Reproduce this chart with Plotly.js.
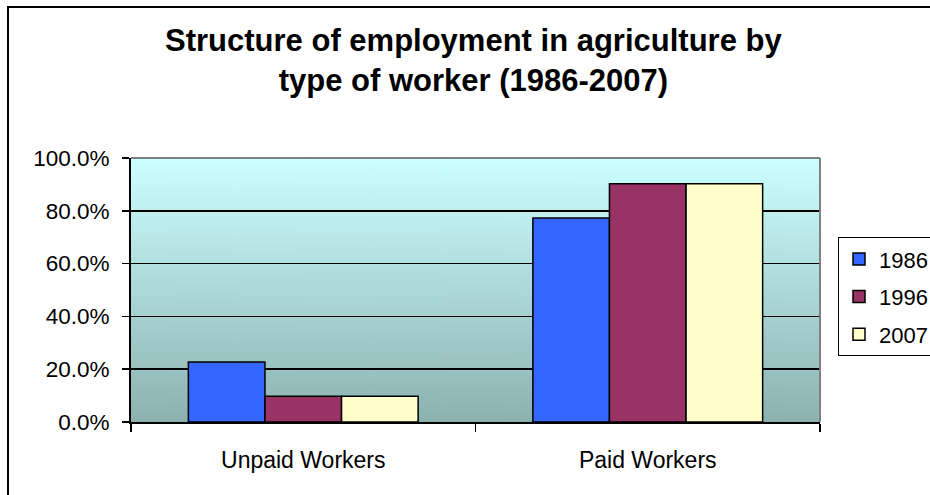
<!DOCTYPE html>
<html>
<head>
<meta charset="utf-8">
<script src="https://cdn.plot.ly/plotly-3.0.1.min.js"></script>
<style>
html,body{margin:0;padding:0;overflow:hidden;background:#fff;}
#chart{position:absolute;left:0;top:0;width:930px;height:495px;}
#frame{position:absolute;left:7px;top:6px;width:1000px;height:1000px;border:2px solid #000;pointer-events:none;}
</style>
</head>
<body>
<div id="frame"></div>
<div id="chart"></div>
<script>
const categories = ["Unpaid Workers", "Paid Workers"];
const years = ["1986", "1996", "2007"];
const values1986 = [22.7, 77.3];
const values1996 = [9.8, 90.2];
const values2007 = [9.8, 90.2];
const seriesColors = ["#3366FF", "#993366", "#FFFFCC"];
const yTicks = [0, 20, 40, 60, 80, 100];

// gradient background image for the plot area
const cv = document.createElement("canvas");
cv.width = 10; cv.height = 264;
const ctx = cv.getContext("2d");
const g = ctx.createLinearGradient(0, 0, 0, 264);
g.addColorStop(0, "#CCFFFF");
g.addColorStop(1, "#8CB2B0");
ctx.fillStyle = g;
ctx.fillRect(0, 0, 10, 264);
const bgURL = cv.toDataURL();

const seriesValues = [values1986, values1996, values2007];
const traces = years.map((yr, i) => ({
  type: "bar",
  name: yr,
  x: categories,
  y: seriesValues[i],
  legendgroup: "g" + i,
  marker: {color: seriesColors[i], line: {color: "#000", width: 1.5}},
  hoverinfo: "none"
}));

const layout = {
  width: 930, height: 495,
  margin: {l: 131, r: 110, t: 158, b: 73, autoexpand: false},
  paper_bgcolor: "rgba(0,0,0,0)",
  plot_bgcolor: "rgba(0,0,0,0)",
  font: {family: "Liberation Sans, Arial, sans-serif", color: "#000", size: 22},
  title: {
    text: "Structure of employment in agriculture by<br>type of worker (1986-2007)",
    font: {family: "Liberation Sans, Arial, sans-serif", size: 31, weight: "bold", color: "#000"},
    x: 0.509, xanchor: "center",
    y: 1 - 51/495, yanchor: "top", yref: "container"
  },
  barmode: "group",
  bargap: 0.333,
  bargroupgap: 0,
  xaxis: {
    type: "category",
    tickson: "boundaries",
    ticks: "outside", ticklen: 8, tickwidth: 1.5, tickcolor: "#000",
    showline: true, linecolor: "#000", linewidth: 2,
    showgrid: false, zeroline: false,
    ticklabelstandoff: 16,
    tickfont: {size: 23, color: "#000"}
  },
  yaxis: {
    range: [0, 100],
    tickvals: yTicks,
    ticktext: yTicks.map(v => v.toFixed(1) + "%"),
    ticks: "outside", ticklen: 7, tickwidth: 1.5, tickcolor: "#000",
    showline: true, linecolor: "#000", linewidth: 2,
    showgrid: true, gridcolor: "#000", gridwidth: 1.5,
    zeroline: false,
    ticklabelstandoff: 8,
    tickfont: {size: 22.5, color: "#000"}
  },
  legend: {
    x: (838 - 131) / 689, xanchor: "left", xref: "paper",
    y: 0.70, yanchor: "top", yref: "paper",
    bgcolor: "#fff", bordercolor: "#000", borderwidth: 1,
    font: {size: 22, color: "#000"},
    traceorder: "grouped", tracegroupgap: 6,
    entrywidth: 120,
    itemclick: false, itemdoubleclick: false
  },
  images: [{
    source: bgURL, xref: "paper", yref: "paper",
    x: 0, y: 1, sizex: 1, sizey: 1, sizing: "stretch",
    xanchor: "left", yanchor: "top", layer: "below"
  }],
  shapes: [
    {type: "line", xref: "paper", yref: "paper", x0: 0, x1: 1, y0: 1, y1: 1, line: {color: "#808080", width: 2}},
    {type: "line", xref: "paper", yref: "paper", x0: 1, x1: 1, y0: 0, y1: 1, line: {color: "#808080", width: 2}}
  ]
};

Plotly.newPlot("chart", traces, layout, {staticPlot: true, displayModeBar: false});
</script>
</body>
</html>
